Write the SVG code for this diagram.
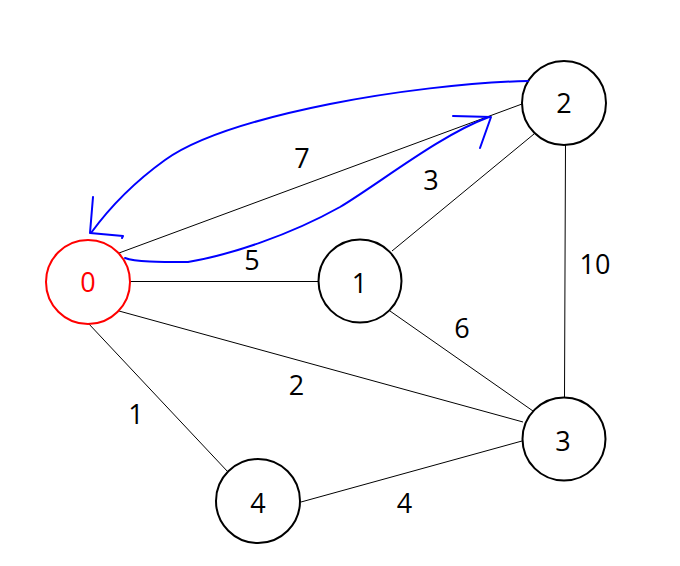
<svg xmlns="http://www.w3.org/2000/svg" width="680" height="566" viewBox="0 0 680 566">
<style>
.node{fill:#fff;stroke:#000;stroke-width:2}
.start{fill:#fff;stroke:#f00;stroke-width:2}
.t{font-family:"Open Sans","DejaVu Sans",sans-serif;font-size:27px;text-anchor:middle;fill:#000}
.edge{stroke:#000;stroke-width:1;fill:none}
.pen{stroke:#0000ff;stroke-width:2;fill:none;stroke-linecap:round;stroke-linejoin:round}
</style>
<rect width="680" height="566" fill="#fff"/>
<g id="connectors">
<line class="edge" x1="119" y1="253" x2="522" y2="104"/>
<line class="edge" x1="130" y1="281.5" x2="318" y2="281.5"/>
<line class="edge" x1="119" y1="311" x2="523" y2="422"/>
<line class="edge" x1="88" y1="323" x2="228" y2="472"/>
<line class="edge" x1="301" y1="502" x2="522" y2="441"/>
<line class="edge" x1="390" y1="311" x2="533" y2="411"/>
<line class="edge" x1="392" y1="251" x2="534" y2="134"/>
<line class="edge" x1="565.5" y1="143" x2="564.5" y2="398"/>
<text class="t" x="302" y="168">7</text>
<text class="t" x="431" y="190">3</text>
<text class="t" x="252" y="269.5">5</text>
<text class="t" x="595" y="274">10</text>
<text class="t" x="462" y="337.5">6</text>
<text class="t" x="296.5" y="394.5">2</text>
<text class="t" x="136" y="424">1</text>
<text class="t" x="404.5" y="513">4</text>
</g>
<g id="node0"><circle class="start" cx="88" cy="282" r="42"/><text class="t" x="88" y="292" style="fill:#f00">0</text></g>
<g id="node1"><circle class="node" cx="360" cy="281" r="41.5"/><text class="t" x="359.5" y="292.5">1</text></g>
<g id="node2"><circle class="node" cx="564" cy="103" r="42"/><text class="t" x="564" y="112.5">2</text></g>
<g id="node3"><circle class="node" cx="564" cy="439" r="41.5"/><text class="t" x="563" y="450.5">3</text></g>
<g id="node4"><circle class="node" cx="258" cy="501" r="42"/><text class="t" x="258" y="512.5">4</text></g>
<g id="annotations">
<path class="pen" d="M528,81 C470,82 390,92 330,104 C260,118 200,135 165,160 C140,178 115,200 91,233"/>
<path class="pen" d="M93,197 L90,233 L123,236 L122,238"/>
<path class="pen" d="M125,258 C135,262 160,262 188,262 C230,255 290,235 340,207 C380,183 440,135 489,117"/>
<path class="pen" d="M453,116 L491,117 L480,148"/>
</g>
</svg>
